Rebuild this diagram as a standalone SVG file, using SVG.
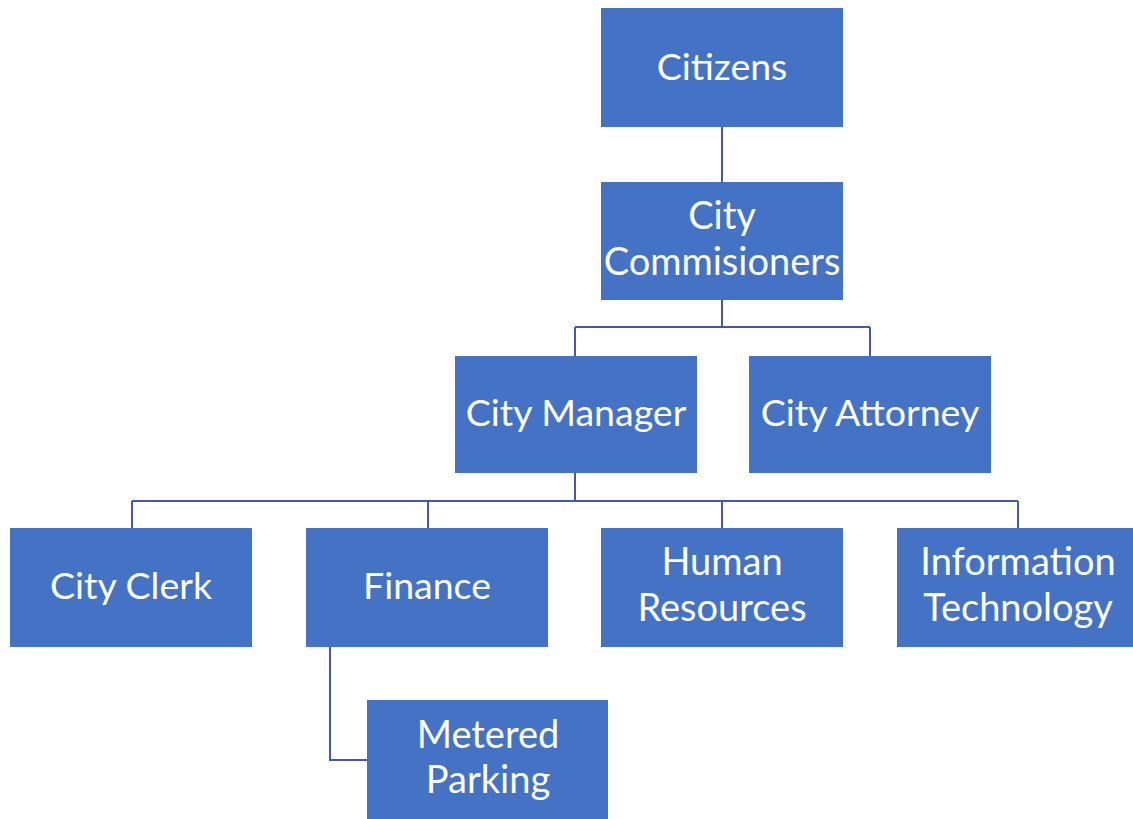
<svg xmlns="http://www.w3.org/2000/svg" width="1133" height="819" viewBox="0 0 1133 819">
  <style>
    .box { fill: #4472C4; }
    .lbl { fill: #ffffff; font-family: Lato, "Open Sans", sans-serif; font-size: 37.5px; text-anchor: middle; }
    .lbl2 { fill: #ffffff; font-family: Lato, "Open Sans", sans-serif; font-size: 38px; text-anchor: middle; }
    .conn { fill: none; stroke: #4A56A6; stroke-width: 2; }
  </style>
  <rect width="1133" height="819" fill="#ffffff"/>

  <!-- connectors -->
  <g id="connectors">
    <path class="conn" d="M722 127 V182"/>
    <path class="conn" d="M722 300 V327 M575 327 H870 M575 327 V356 M870 327 V356"/>
    <path class="conn" d="M575 473 V501 M132 501 H1018 M132 501 V528 M428 501 V528 M722 501 V528 M1018 501 V528"/>
    <path class="conn" d="M330 647 V760 H367"/>
  </g>

  <g id="citizens">
    <rect class="box" x="601" y="8" width="242" height="119"/>
    <text class="lbl" x="722" y="80">Citizens</text>
  </g>
  <g id="city-commissioners">
    <rect class="box" x="601" y="182" width="242" height="118"/>
    <text class="lbl2" x="722" y="229">City</text>
    <text class="lbl2" x="722" y="275">Commisioners</text>
  </g>
  <g id="city-manager">
    <rect class="box" x="455" y="356" width="242" height="117"/>
    <text class="lbl" x="576" y="426">City Manager</text>
  </g>
  <g id="city-attorney">
    <rect class="box" x="749" y="356" width="242" height="117"/>
    <text class="lbl" x="870" y="426">City Attorney</text>
  </g>
  <g id="city-clerk">
    <rect class="box" x="10" y="528" width="242" height="119"/>
    <text class="lbl" x="131" y="599">City Clerk</text>
  </g>
  <g id="finance">
    <rect class="box" x="306" y="528" width="242" height="119"/>
    <text class="lbl" x="427" y="599">Finance</text>
  </g>
  <g id="human-resources">
    <rect class="box" x="601" y="528" width="242" height="119"/>
    <text class="lbl2" x="722" y="575">Human</text>
    <text class="lbl2" x="722" y="621">Resources</text>
  </g>
  <g id="information-technology">
    <rect class="box" x="897" y="528" width="242" height="119"/>
    <text class="lbl2" x="1018" y="575">Information</text>
    <text class="lbl2" x="1018" y="621">Technology</text>
  </g>
  <g id="metered-parking">
    <rect class="box" x="367" y="700" width="241" height="119"/>
    <text class="lbl2" x="488" y="748">Metered</text>
    <text class="lbl2" x="488" y="793">Parking</text>
  </g>
</svg>
